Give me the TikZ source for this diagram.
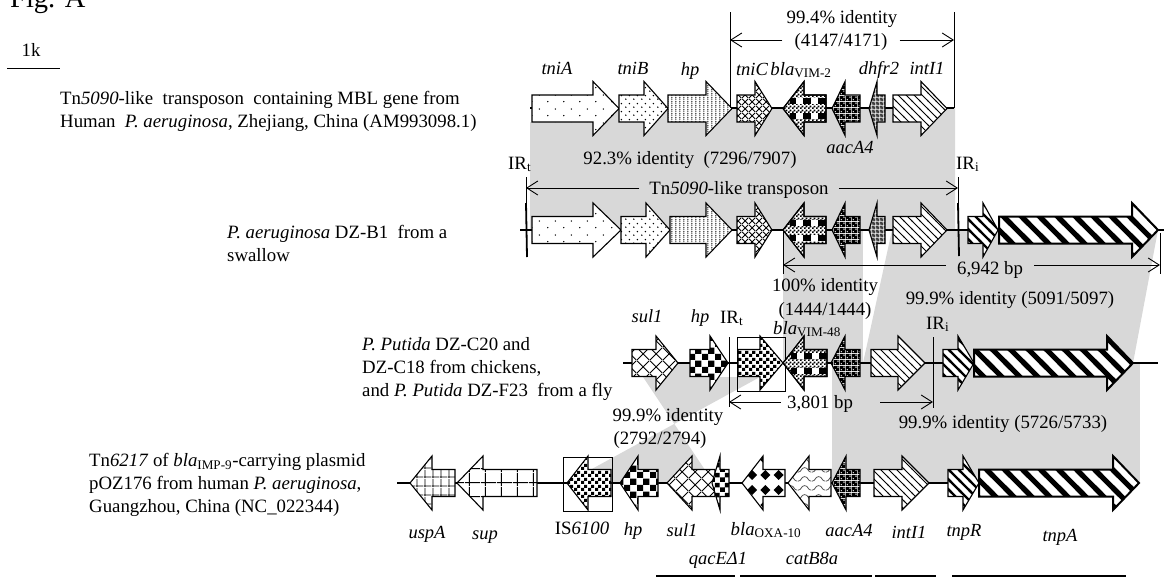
\documentclass[tikz,border=0pt]{standalone}
\usepackage{fontspec}
\setmainfont{Liberation Serif}
\usepackage{tikz}
\usetikzlibrary{arrows.meta,patterns}
% fill patterns of the genes
\newcommand{\stripepat}[4]{\pgfdeclarepatternformonly{#1}{\pgfqpoint{-#3pt}{-#3pt}}{\pgfpoint{#2pt+#3pt}{#2pt+#3pt}}{\pgfqpoint{#2pt}{#2pt}}{\pgfsetlinewidth{#4pt}\pgfpathmoveto{\pgfpoint{-#3pt}{#2pt+#3pt}}\pgfpathlineto{\pgfpoint{#2pt+#3pt}{-#3pt}}\pgfusepath{stroke}}}
\newcommand{\dotpat}[7]{\pgfdeclarepatternformonly{#1}{\pgfpointorigin}{\pgfqpoint{#2pt}{#3pt}}{\pgfqpoint{#2pt}{#3pt}}{\pgfpathcircle{\pgfqpoint{#4pt}{#5pt}}{#7pt}\pgfpathcircle{\pgfpoint{#4pt+#6pt}{#5pt+#3pt/2}}{#7pt}\pgfusepath{fill}}}
\newcommand{\crosspat}[3]{\pgfdeclarepatternformonly{#1}{\pgfpointorigin}{\pgfqpoint{#2pt}{#2pt}}{\pgfqpoint{#2pt}{#2pt}}{\pgfsetlinewidth{#3pt}\pgfpathmoveto{\pgfqpoint{0pt}{0pt}}\pgfpathlineto{\pgfqpoint{#2pt}{#2pt}}\pgfpathmoveto{\pgfqpoint{0pt}{#2pt}}\pgfpathlineto{\pgfqpoint{#2pt}{0pt}}\pgfusepath{stroke}}}
\newcommand{\gridpat}[6]{\pgfdeclarepatternformonly{#1}{\pgfpointorigin}{\pgfqpoint{#2pt}{#3pt}}{\pgfqpoint{#2pt}{#3pt}}{\pgfsetlinewidth{#6pt}\pgfpathmoveto{\pgfqpoint{#4pt}{0pt}}\pgfpathlineto{\pgfqpoint{#4pt}{#3pt}}\pgfpathmoveto{\pgfqpoint{0pt}{#5pt}}\pgfpathlineto{\pgfqpoint{#2pt}{#5pt}}\pgfusepath{stroke}}}
\newcommand{\checkpat}[2]{\pgfdeclarepatternformonly{#1}{\pgfpointorigin}{\pgfqpoint{#2pt}{#2pt}}{\pgfqpoint{#2pt}{#2pt}}{\pgfpathrectangle{\pgfpointorigin}{\pgfpoint{#2pt/2}{#2pt/2}}\pgfpathrectangle{\pgfpoint{#2pt/2}{#2pt/2}}{\pgfpoint{#2pt/2}{#2pt/2}}\pgfusepath{fill}}}
\newcommand{\meshpat}[3]{\pgfdeclarepatternformonly{#1}{\pgfpointorigin}{\pgfqpoint{#2pt}{#2pt}}{\pgfqpoint{#2pt}{#2pt}}{\pgfpathrectangle{\pgfpointorigin}{\pgfqpoint{#2pt}{#2pt}}\pgfpathcircle{\pgfpoint{#2pt/4}{#2pt/4}}{#3pt}\pgfpathcircle{\pgfpoint{#2pt*3/4}{#2pt*3/4}}{#3pt}\pgfseteorule\pgfusepath{fill}}}
\dotpat{sparsedots}{16}{14}{4}{3.5}{8}{.8}
\dotpat{middots}{8}{8}{2}{2}{4}{.85}
\dotpat{smalldots}{4.2}{4.2}{1}{1}{0}{.8}
\crosspat{finecross}{7}{1}
\crosspat{widecross}{13}{.9}
\checkpat{bigcheck}{13}
\checkpat{isdots}{7}
\checkpat{finecheck}{4}
\checkpat{qaccheck}{10}
\meshpat{darkmesh}{6}{1.1}
\meshpat{greymesh}{4}{.8}
\stripepat{thinstripe}{8}{1}{1}
\stripepat{midstripe}{10}{2}{2.4}
\stripepat{widestripe}{18}{5}{5.2}
\gridpat{smallgrid}{8}{8.5}{1}{1}{.8}
\gridpat{largegrid}{15.5}{13.5}{4.5}{3.5}{.9}
\pgfdeclarepatternformonly{diamonds}{\pgfqpoint{-1pt}{-6pt}}{\pgfqpoint{15pt}{9pt}}{\pgfqpoint{13.3pt}{15pt}}{\pgfpathmoveto{\pgfqpoint{2.2pt}{1pt}}\pgfpathlineto{\pgfqpoint{7.2pt}{6pt}}\pgfpathlineto{\pgfqpoint{12.2pt}{1pt}}\pgfpathlineto{\pgfqpoint{7.2pt}{-4pt}}\pgfpathclose\pgfusepath{fill}}
\pgfdeclarepatternformonly{waves}{\pgfpointorigin}{\pgfqpoint{14pt}{9pt}}{\pgfqpoint{14pt}{9pt}}{\pgfsetlinewidth{.8pt}\pgfpathmoveto{\pgfqpoint{0pt}{2pt}}\pgfpathcurveto{\pgfqpoint{4pt}{2pt}}{\pgfqpoint{3pt}{7pt}}{\pgfqpoint{7pt}{7pt}}\pgfpathcurveto{\pgfqpoint{11pt}{7pt}}{\pgfqpoint{10pt}{2pt}}{\pgfqpoint{14pt}{2pt}}\pgfusepath{stroke}}
\definecolor{bandgrey}{RGB}{216,216,216}
\tikzstyle{band}=[fill=bandgrey]
\tikzstyle{genebox}=[draw, line width=1.1pt, preaction={fill=white}]
\tikzstyle{spine}=[line width=2.2pt]
\tikzstyle{lab}=[font=\fontsize{18.8}{23}\selectfont, inner sep=0pt, text height=13pt, text depth=1pt]
\tikzstyle{gn}=[lab, font=\fontsize{18.5}{23}\selectfont\itshape]
\tikzstyle{txt}=[font=\fontsize{18.8}{23}\selectfont, inner sep=0pt, align=left, anchor=west]
\tikzstyle{dim}=[line width=.9pt, -{Straight Barb[length=11pt,width=14pt]}]
\tikzstyle{thin rule}=[line width=.9pt]
% tail, neck and tip x, then y of the row
\newcommand{\genepath}[4]{(#1,{#4-13.5}) -- (#2,{#4-13.5}) -- (#2,{#4-27}) -- (#3,#4) -- (#2,{#4+27}) -- (#2,{#4+13.5}) -- (#1,{#4+13.5}) -- cycle}
\newcommand{\gene}[5][]{\draw[genebox,#1] \genepath{#2}{#3}{#4}{#5};}
% tail, neck, tip, y: the blaVIM arrow
\newcommand{\vimgene}[4]{\gene[pattern=finecheck]{#1}{#2}{#3}{#4}
\begin{scope}
\clip \genepath{#1}{#2}{#3}{#4};
\foreach \a/\b/\c in {0/8/black,8/15/white,15/23/black,23/30/white,30/36/black}{
\fill[\c] ({#1-\a},{#4-10.5}) rectangle ({#1-\b},{#4-4.5});
\fill[\c] ({#1-\a},{#4+4.5}) rectangle ({#1-\b},{#4+10.5});
}
\end{scope}
\draw[line width=1.1pt] \genepath{#1}{#2}{#3}{#4};}

\begin{document}
\begin{tikzpicture}[x=1pt,y=-1pt]
\useasboundingbox (0,0) rectangle (1164,581);
% grey identity bands
\fill[band] (530,122) -- (532,122) -- (532,108) -- (955,108) -- (955,230) -- (530,230) -- cycle;
\fill[band] (783,230) -- (863,230) -- (863,363) -- (783,363) -- cycle;
\fill[band] (892,230) -- (1158,230) -- (1133,363) -- (863,363) -- cycle;
\fill[band] (832,363) -- (1140,363) -- (1140,483) -- (832,483) -- cycle;
\fill[band] (643,377) -- (678,363) -- (690,363) -- (690,377) -- (760,377) -- (590,470) -- (590,483) -- (715,483) -- (705,470) -- cycle;
% backbones
\coordinate (r1a) at (530,108); \coordinate (r1b) at (954,108);
\coordinate (r2a) at (520,230); \coordinate (r2b) at (1164,230);
\coordinate (r3a) at (623,363); \coordinate (r3b) at (925,363);
\coordinate (r3c) at (975,363); \coordinate (r3d) at (1133,363); \coordinate (r3e) at (1158,363);
\coordinate (r4a) at (397,483); \coordinate (r4b) at (1139,483);
\draw[spine] (r1a) -- (r1b);
\draw[spine] (r2a) -- (r2b);
\draw[spine] (r3a) -- (r3b);
\draw[line width=1.2pt] (r3b) -- (r3c);
\draw[spine] (r3d) -- (r3e);
\draw[spine] (r4a) -- (r4b);
% first row
\gene[pattern=sparsedots]{532}{593}{619}{108.5}
\gene[pattern=middots]{619}{644}{668}{108.5}
\gene[pattern=smalldots]{668}{706}{732}{108.5}
\gene[pattern=finecross]{737}{755}{772}{108.5}
\vimgene{826}{804}{783}{108.5}
\gene[pattern=darkmesh]{860}{845}{832}{108.5}
\gene[pattern=greymesh,pattern color=black!75]{885}{877}{869}{108.5}
\gene[pattern=thinstripe]{893}{921}{947}{108.5}
% second row
\gene[pattern=sparsedots]{532}{593}{621}{230}
\gene[pattern=middots]{621}{646}{670}{230}
\gene[pattern=smalldots]{670}{706}{732}{230}
\gene[pattern=finecross]{737}{755}{772}{230}
\vimgene{826}{804}{783}{230}
\gene[pattern=darkmesh]{860}{845}{832}{230}
\gene[pattern=greymesh,pattern color=black!75]{885}{877}{869}{230}
\gene[pattern=thinstripe]{893}{921}{947}{230}
\gene[pattern=midstripe]{968}{983}{998}{230}
\gene[pattern=widestripe,line width=2pt]{999}{1132}{1158}{230}
% third row
\gene[pattern=widecross]{632}{656}{678}{363}
\gene[pattern=bigcheck]{690}{710}{728}{363}
\draw[thin rule] (737,337) rectangle (785,391);
\gene[pattern=isdots]{738}{760}{783}{363}
\vimgene{827}{804}{783}{363}
\gene[pattern=darkmesh]{860}{845}{831}{363}
\gene[pattern=thinstripe]{871}{898}{925}{363}
\gene[pattern=midstripe]{943}{958}{974}{363}
\gene[pattern=widestripe,line width=2pt]{974}{1107}{1133}{363}
% fourth row
\gene[pattern=smallgrid]{455}{432}{410}{483}
\gene[pattern=largegrid]{537}{483}{457}{483}
\draw[thin rule] (563,457) rectangle (612,511);
\gene[pattern=isdots]{611}{588}{567}{483}
\gene[pattern=bigcheck]{658}{638}{620}{483}
\gene[pattern=widecross]{715}{692}{667}{483}
\gene[pattern=qaccheck]{729}{720}{712}{483}
\gene[pattern=diamonds]{785}{763}{742}{483}
\gene[pattern=waves,pattern color=black!70]{831}{809}{788}{483}
\gene[pattern=darkmesh]{860}{846}{832}{483}
\gene[pattern=thinstripe]{874}{902}{929}{483}
\gene[pattern=midstripe]{948}{963}{979}{483}
\gene[pattern=widestripe,line width=2pt]{979}{1113}{1139}{483}
% 99.4% span
\coordinate (ta) at (730,12); \coordinate (tb) at (730,108);
\coordinate (tc) at (954,12); \coordinate (td) at (954,108);
\draw[thin rule] (ta) -- (tb);
\draw[thin rule] (tc) -- (td);
\node[lab] (ident1) at (842,17) {99.4\% identity};
\node[lab,inner xsep=12pt] (count1) at (841,40) {(4147/4171)};
\draw[dim] (count1.west) -- (count1.west -| ta);
\draw[dim] (count1.east) -- (count1.east -| tc);
% transposon span
\coordinate (ea) at (526,177); \coordinate (eb) at (526,203); \coordinate (ec) at (527,257);
\coordinate (ed) at (958,177); \coordinate (ee) at (958,203); \coordinate (ef) at (959,256);
\draw[thin rule] (ea) -- (eb);
\draw[line width=1.8pt] (eb) -- (ec);
\draw[thin rule] (ed) -- (ee);
\draw[line width=1.8pt] (ee) -- (ef);
\node[lab,inner xsep=10pt] (tn) at (739,188) {Tn\textit{5090}-like transposon};
\draw[dim] (tn.west) -- (tn.west -| ea);
\draw[dim] (tn.east) -- (tn.east -| ed);
% 6,942 bp span
\coordinate (ba) at (783,230); \coordinate (bb) at (783,274);
\coordinate (bc) at (1160,233); \coordinate (bd) at (1160,274);
\draw[thin rule] (ba) -- (bb);
\draw[thin rule] (bc) -- (bd);
\node[lab,inner xsep=11pt] (len1) at (990,268) {6,942 bp};
\draw[dim] ([yshift=3pt]len1.west) -- ([yshift=3pt]len1.west -| ba);
\draw[dim] ([yshift=3pt]len1.east) -- ([yshift=3pt]len1.east -| bc);
% 3,801 bp span
\coordinate (ca) at (729,337); \coordinate (cb) at (729,407);
\coordinate (cc) at (933,337); \coordinate (cd) at (933,408);
\draw[thin rule] (ca) -- (cb);
\draw[thin rule] (cc) -- (cd);
\node[lab,inner xsep=6pt] (len2) at (820,402) {3,801 bp};
\coordinate (len2r) at (880,402);
\draw[dim] (len2.west) -- (len2.west -| ca);
\draw[dim] (len2r) -- (len2r -| cc);
% rule under the lower genes
\coordinate (ua) at (656,576); \coordinate (ub) at (735,576);
\coordinate (uc) at (740,576); \coordinate (ud) at (872,576);
\coordinate (ue) at (875,576); \coordinate (uf) at (936,576);
\coordinate (ug) at (952,576); \coordinate (uh) at (1126,576);
\draw[line width=2pt] (ua) -- (ub);
\draw[line width=2pt] (uc) -- (ud);
\draw[line width=2pt] (ue) -- (uf);
\draw[line width=2pt] (ug) -- (uh);
% scale bar
\coordinate (sa) at (7,68); \coordinate (sb) at (60,68);
\draw[thin rule] (sa) -- (sb);
\node[lab] (scale) at (31,50) {1k};
\node[font=\fontsize{28.5}{30}\selectfont, inner sep=0pt, anchor=base west] (figlabel) at (10,7) {Fig. A};
% gene names
\node[gn] (n1) at (557,68) {tniA};
\node[gn] (n2) at (633,68) {tniB};
\node[gn] (n3) at (690,69) {hp};
\node[gn] (n4) at (752,69) {tniC};
\node[lab] (n5) at (801,69) {\textit{bla}\textsubscript{VIM-2}};
\node[gn] (n6) at (879,68) {dhfr2};
\node[gn] (n7) at (927,68) {intI1};
\node[gn] (n8) at (850,147) {aacA4};
\node[gn] (n9) at (647,316) {sul1};
\node[gn] (n10) at (700,316) {hp};
\node[lab] (n11) at (807,328) {\textit{bla}\textsubscript{VIM-48}};
\node[gn] (n12) at (427,532) {uspA};
\node[gn] (n13) at (485,533) {sup};
\node[lab] (n14) at (582,528) {IS\textit{6100}};
\node[gn] (n15) at (633,529) {hp};
\node[gn] (n16) at (682,530) {sul1};
\node[lab] (n17) at (766,529) {\textit{bla}\textsubscript{OXA-10}};
\node[gn] (n18) at (849,530) {aacA4};
\node[gn] (n19) at (909,532) {intI1};
\node[gn] (n20) at (964,530) {tnpR};
\node[gn] (n21) at (1060,535) {tnpA};
\node[gn] (n22) at (718,558) {qacEΔ1};
\node[gn] (n23) at (812,558) {catB8a};
% IR labels
\node[lab,anchor=west] (ir1) at (508,163) {IR\textsubscript{t}};
\node[lab,anchor=west] (ir2) at (956,163) {IR\textsubscript{i}};
\node[lab,anchor=west] (ir3) at (720,317) {IR\textsubscript{t}};
\node[lab,anchor=west] (ir4) at (926,323) {IR\textsubscript{i}};
% identity values
\node[lab] (ident2) at (690,158) {92.3\% identity\ \ (7296/7907)};
\node[lab] (ident3) at (825,285) {100\% identity};
\node[lab] (count3) at (825,309) {(1444/1444)};
\node[lab] (ident4) at (1010,298) {99.9\% identity (5091/5097)};
\node[lab] (ident5) at (668,415) {99.9\% identity};
\node[lab] (count5) at (660,438) {(2792/2794)};
\node[lab] (ident6) at (1003,422) {99.9\% identity (5726/5733)};
% strain descriptions
\node[txt] (s1) at (60,111.5) {Tn\textit{5090}-like\ \ transposon\ \ containing MBL gene from\\Human\ \ \textit{P. aeruginosa}, Zhejiang, China (AM993098.1)};
\node[txt] (s2) at (227,243.5) {\textit{P. aeruginosa} DZ-B1\ \ from a\\swallow};
\node[txt] (s3) at (362,369) {\textit{P. Putida} DZ-C20 and\\DZ-C18 from chickens,\\and \textit{P. Putida} DZ-F23\ \ from a fly};
\node[txt] (s4) at (89,485) {Tn\textit{6217} of \textit{bla}\textsubscript{IMP-9}-carrying plasmid\\pOZ176 from human \textit{P. aeruginosa},\\Guangzhou, China (NC\_022344)};
\end{tikzpicture}
\end{document}
